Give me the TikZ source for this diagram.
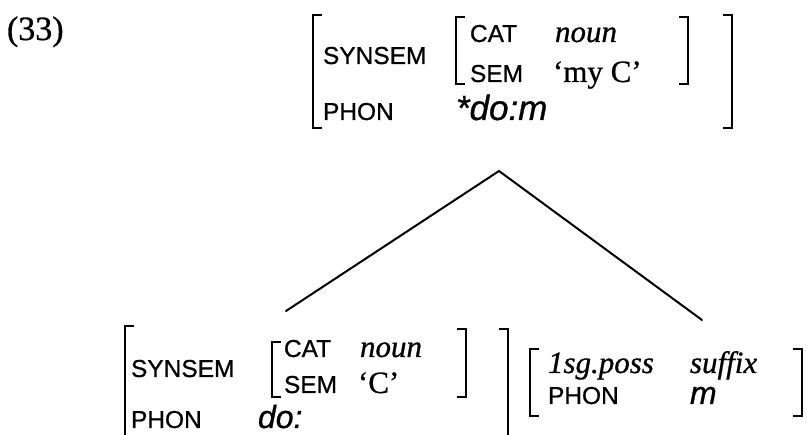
\documentclass[tikz,border=0pt]{standalone}
\usepackage{fontspec}
\setmainfont[FakeBold=0.8]{Liberation Serif}
\newfontfamily\labfont[FakeBold=0.8]{Liberation Sans}
\begin{document}
\begin{tikzpicture}[x=1pt,y=-1pt,
  txt/.style={anchor=base west,inner sep=0pt,outer sep=0pt},
  lab/.style={txt,font=\labfont\fontsize{24.5}{29}\selectfont},
  val/.style={txt,font=\fontsize{31}{36}\selectfont},
  vali/.style={txt,font=\fontsize{31}{36}\selectfont\itshape},
  phon/.style={txt,font=\labfont\fontsize{32}{38}\selectfont\itshape},
  bigphon/.style={txt,font=\labfont\fontsize{35}{40}\selectfont\itshape},
  exnum/.style={txt,font=\fontsize{34}{40}\selectfont},
  brk/.style={line width=2pt,line cap=butt,line join=miter},
  branch/.style={line width=2pt,line cap=round}]
\useasboundingbox (0,0) rectangle (807,435);
\newcommand{\lbrk}[3]{\draw[brk] (#1+9,#2) -- (#1,#2) -- (#1,#3) -- (#1+9,#3);}
\newcommand{\rbrk}[3]{\draw[brk] (#1-9,#2) -- (#1,#2) -- (#1,#3) -- (#1-9,#3);}
\newcommand{\lbrkopen}[2]{\draw[brk] (#1+9,#2) -- (#1,#2) -- (#1,435);}
\newcommand{\rbrkopen}[2]{\draw[brk] (#1-9,#2) -- (#1,#2) -- (#1,435);}

\node[exnum] (num) at (7,40) {(33)};

% ---- top AVM
\lbrk{313}{15}{128}
\rbrk{732}{15}{128}
\lbrk{456}{17}{84}
\rbrk{688}{17}{84}
\node[lab] (t-synsem) at (323,64) {SYNSEM};
\node[lab] (t-cat) at (470,42) {CAT};
\node[vali] (t-noun) at (555,42) {noun};
\node[lab] (t-sem) at (470,82) {SEM};
\node[val] (t-semv) at (553,82) {‘my C’};
\node[lab] (t-phon) at (323,120) {PHON};
\node[bigphon] (t-phonv) at (456,120) {*do:m};

% ---- branches
\coordinate (apex) at (499,171);
\coordinate (lend) at (286,311);
\coordinate (rend) at (702,320);
\draw[branch] (lend) -- (apex) -- (rend);

% ---- bottom left AVM
\lbrkopen{125}{326}
\rbrkopen{508}{329}
\lbrk{272}{342}{397}
\rbrk{466}{329}{397}
\node[lab] (l-synsem) at (131,377) {SYNSEM};
\node[lab] (l-cat) at (284,357) {CAT};
\node[vali] (l-noun) at (360,357) {noun};
\node[lab] (l-sem) at (284,393) {SEM};
\node[val] (l-semv) at (358,393) {‘C’};
\node[lab,text depth=0pt] (l-phon) at (131,428) {PHON};
\node[phon,text depth=0pt] (l-phonv) at (258,428) {do:};

% ---- bottom right AVM
\lbrk{530}{349}{416}
\rbrk{802}{349}{416}
\node[vali] (r-poss) at (548,373) {1sg.poss};
\node[vali] (r-suffix) at (690,373) {suffix};
\node[lab] (r-phon) at (548,404) {PHON};
\node[phon] (r-phonv) at (690,404) {m};
\end{tikzpicture}
\end{document}
